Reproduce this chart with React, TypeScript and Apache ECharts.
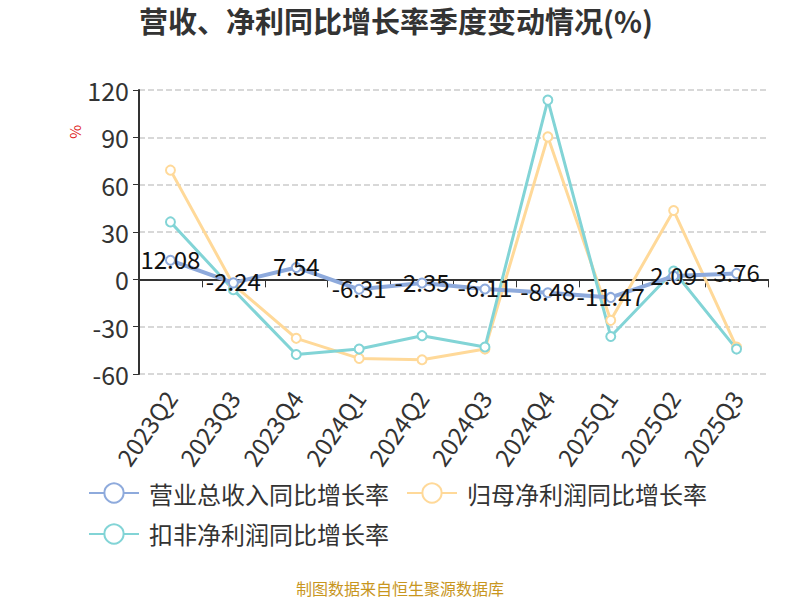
import React, { useEffect, useRef } from "react";
import * as echarts from "echarts";

const categories = ["2023Q2", "2023Q3", "2023Q4", "2024Q1", "2024Q2", "2024Q3", "2024Q4", "2025Q1", "2025Q2", "2025Q3"];
const revenueGrowth = [12.08, -2.24, 7.54, -6.31, -2.35, -6.11, -8.48, -11.47, 2.09, 3.76];
const netProfitGrowth = [69.2, -3.4, -37.4, -50.1, -51.0, -44.2, 90.3, -26.0, 43.6, -42.9];
const deductedProfitGrowth = [36.4, -6.6, -47.6, -44.2, -35.7, -42.9, 113.6, -36.2, 5.3, -44.2];
const seriesNames = ["营业总收入同比增长率", "归母净利润同比增长率", "扣非净利润同比增长率"];
const yTicks = [-60, 120, 30];

const FONT = "'Noto Sans CJK SC', 'Noto Sans', sans-serif";

export default function App() {
  const ref = useRef<HTMLDivElement>(null);
  useEffect(() => {
    if (!ref.current) return;
    const chart = echarts.init(ref.current, null, { renderer: "svg" });
    chart.setOption({
      animation: false,
      textStyle: { fontFamily: FONT },
      title: {
        text: "营收、净利同比增长率季度变动情况(%)",
        left: 134,
        top: 0,
        textStyle: { fontSize: 29, fontWeight: "bold", color: "#333", fontFamily: FONT },
      },
      legend: {
        left: 83,
        top: 476,
        width: 680,
        itemWidth: 50,
        itemHeight: 24,
        itemGap: 17,
        textStyle: { fontSize: 24, color: "#333", fontFamily: FONT, padding: [0, 0, 0, 5] },
        data: seriesNames,
      },
      grid: { left: 139, right: 32, top: 90, bottom: 226, containLabel: false },
      xAxis: {
        type: "category",
        data: categories,
        boundaryGap: true,
        axisLine: { show: true, onZero: true, lineStyle: { color: "#333", width: 2 } },
        axisTick: { show: true, length: 8, lineStyle: { color: "#333" } },
        axisLabel: {
          rotate: 55,
          fontSize: 24,
          color: "#333",
          margin: 19,
          interval: 0,
          fontFamily: FONT,
        },
      },
      yAxis: {
        type: "value",
        min: yTicks[0],
        max: yTicks[1],
        interval: yTicks[2],
        axisLine: { show: true, lineStyle: { color: "#333", width: 2 } },
        axisTick: { show: true, length: 6, lineStyle: { color: "#333" } },
        axisLabel: { fontSize: 25, color: "#333", margin: 10, fontFamily: FONT },
        splitLine: { show: true, lineStyle: { color: "#ccc", type: "dashed", width: 1.5 } },
      },
      graphic: [
        {
          type: "text",
          x: 84,
          y: 125,
          rotation: -Math.PI / 2,
          style: { text: "%", fill: "#e02020", fontSize: 15, fontFamily: FONT },
        },
        {
          type: "text",
          left: "center",
          top: 580,
          style: { text: "制图数据来自恒生聚源数据库", fill: "#c8961e", fontSize: 16, fontFamily: FONT },
        },
      ],
      series: [
        {
          name: seriesNames[0],
          type: "line",
          data: revenueGrowth,
          symbol: "emptyCircle",
          symbolSize: 9,
          z: 5,
          itemStyle: { color: "#8eaadc" },
          lineStyle: { width: 4, color: "#8eaadc" },
          label: {
            show: true,
            position: "inside",
            offset: [0, -2],
            fontSize: 24,
            color: "#111",
            fontFamily: FONT,
          },
        },
        {
          name: seriesNames[1],
          type: "line",
          data: netProfitGrowth,
          symbol: "emptyCircle",
          symbolSize: 9,
          itemStyle: { color: "#ffd999" },
          lineStyle: { width: 3, color: "#ffd999" },
        },
        {
          name: seriesNames[2],
          type: "line",
          data: deductedProfitGrowth,
          symbol: "emptyCircle",
          symbolSize: 9,
          itemStyle: { color: "#82d4d6" },
          lineStyle: { width: 3, color: "#82d4d6" },
        },
      ],
    });
    return () => chart.dispose();
  }, []);
  return <div ref={ref} style={{ width: 800, height: 600, position: "absolute", left: 0, top: 0 }} />;
}
